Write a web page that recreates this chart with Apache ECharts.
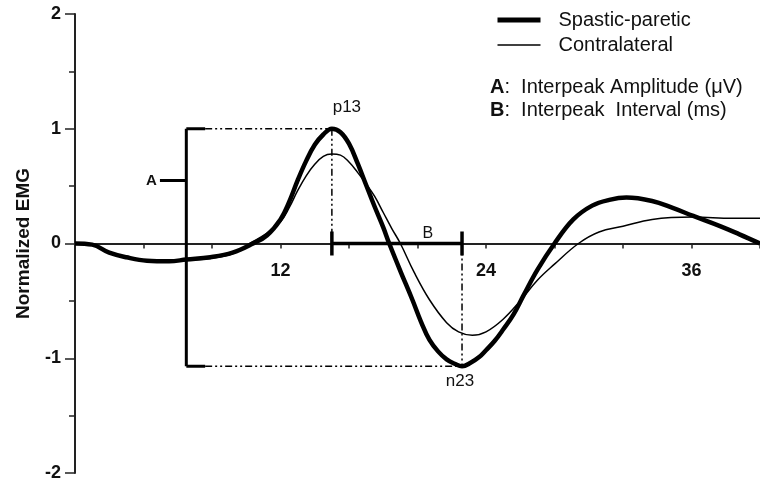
<!DOCTYPE html>
<html>
<head>
<meta charset="utf-8">
<title>Normalized EMG</title>
<script src="https://cdn.jsdelivr.net/npm/echarts@6/dist/echarts.min.js"></script>
<style>
  html, body { margin: 0; padding: 0; background: #fff; }
  #chart { width: 760px; height: 485px; }
</style>
</head>
<body>
<div id="chart"></div>
<script>
// Time after stimulus (ms) and normalized EMG for each limb
const spasticX = [0, 1, 2, 3, 4.2, 5.5, 6.5, 7.9, 9.2, 10.4, 11.2, 12, 12.5, 13, 13.5, 14, 14.5, 15, 15.5, 16, 16.5, 17, 17.5, 18, 18.35, 19, 19.7, 20.2, 20.7, 21.2, 21.7, 22.2, 22.6, 23.1, 23.6, 24, 24.5, 25, 25.6, 26.2, 27, 28, 29.1, 30.2, 31.2, 32.2, 33.7, 34.9, 36.1, 37.7, 38.8, 40];
const spasticY = [0, -0.01, -0.08, -0.12, -0.15, -0.155, -0.14, -0.12, -0.08, 0, 0.07, 0.21, 0.36, 0.55, 0.72, 0.86, 0.95, 1.0, 0.97, 0.87, 0.70, 0.51, 0.32, 0.14, 0, -0.24, -0.49, -0.68, -0.84, -0.94, -1.01, -1.05, -1.07, -1.04, -0.99, -0.93, -0.85, -0.75, -0.62, -0.45, -0.23, 0, 0.21, 0.33, 0.38, 0.40, 0.37, 0.31, 0.24, 0.15, 0.08, 0];

const contraX = [0, 1, 2, 3, 4.2, 5.5, 6.5, 7.9, 9.2, 10.2, 11.1, 12, 12.5, 13, 13.5, 14, 14.5, 15, 15.5, 16, 16.5, 17, 17.5, 18, 18.5, 19, 19.8, 20.7, 21.7, 22.4, 23.2, 24, 25, 26, 27, 28, 29.4, 30.6, 32, 33.7, 36.1, 38.4, 40];
const contraY = [0, -0.01, -0.08, -0.12, -0.15, -0.155, -0.145, -0.13, -0.09, 0, 0.08, 0.19, 0.31, 0.46, 0.59, 0.69, 0.76, 0.78, 0.77, 0.71, 0.62, 0.52, 0.41, 0.27, 0.13, 0, -0.25, -0.49, -0.69, -0.77, -0.80, -0.77, -0.66, -0.5, -0.32, -0.18, 0, 0.1, 0.15, 0.21, 0.23, 0.22, 0.22];

const seriesNames = ['Spastic-paretic', 'Contralateral'];
const xTickLabels = [12, 24, 36];
const yTickLabels = [-2, -1, 0, 1, 2];
const peakNames = ['p13', 'n23'];

// Bracket position for the amplitude marker (ms) and its label height
const bracketX = 6.5;
const bracketStubEnd = 7.6;
const aMarkY = 0.55;
const aMarkStart = 4.96;
const bLabelX = 20.6;
const bTickHalf = 0.105;

const FONT = '"Liberation Sans", Arial, Helvetica, sans-serif';
const INK = '#111';
const THICK = 4.5, THIN = 1.5;

const zip = (xs, ys) => xs.map((x, i) => [x, ys[i]]);

// Peak (p13) and trough (n23) of the spastic-paretic response
let pi = 0, ti = 0;
spasticY.forEach((v, i) => {
  if (v > spasticY[pi]) pi = i;
  if (v < spasticY[ti]) ti = i;
});
const peak = [spasticX[pi], spasticY[pi]];
const trough = [spasticX[ti], spasticY[ti]];

const dashDot = [7, 3, 2, 3, 2, 3];

function seg(points, width, type) {
  return {
    type: 'line', data: points, symbol: 'none', silent: true,
    lineStyle: { color: '#000', width: width, type: type || 'solid' },
    z: 3, animation: false
  };
}

function tag(value, text, extra) {
  return {
    value: value,
    label: Object.assign({ show: true, formatter: text, color: INK, fontFamily: FONT }, extra)
  };
}

const chartEl = document.getElementById('chart');
const chart = echarts.init(chartEl, null, { renderer: 'canvas' });

// Grid geometry; the time axis is drawn along the zero line
const gridTop = 14, gridBottom = 12, yMin = -2, yMax = 2;
const plotH = chartEl.clientHeight - gridTop - gridBottom;
const zeroOffset = -plotH * (0 - yMin) / (yMax - yMin);

chart.setOption({
  backgroundColor: '#fff',
  animation: false,
  textStyle: { fontFamily: FONT },
  grid: { left: 75, right: 0, top: gridTop, bottom: gridBottom, containLabel: false, outerBoundsMode: 'none' },
  legend: {
    data: [
      { name: seriesNames[0], lineStyle: { width: 5, color: '#000' } },
      { name: seriesNames[1], lineStyle: { width: THIN, color: '#000' } }
    ],
    orient: 'vertical',
    left: 490, top: 5,
    itemWidth: 43, itemHeight: 14, itemGap: 5,
    itemStyle: { opacity: 0 },
    textStyle: { fontSize: 20, color: INK, fontFamily: FONT, padding: [0, 0, 0, 13] }
  },
  xAxis: {
    type: 'value', min: 0, max: 40, interval: 4,
    position: 'bottom', offset: zeroOffset,
    axisLine: { onZero: false, lineStyle: { color: '#222', width: 2 } },
    axisTick: { show: true, length: 5, lineStyle: { color: '#222', width: 1.5 } },
    axisLabel: {
      margin: 19, fontSize: 18, fontWeight: 'bold', color: INK, fontFamily: FONT,
      formatter: v => (xTickLabels.indexOf(v) >= 0 ? String(v) : '')
    },
    splitLine: { show: false }
  },
  yAxis: {
    type: 'value', min: yMin, max: yMax, interval: 1,
    name: 'Normalized EMG', nameLocation: 'middle', nameGap: 42, nameRotate: 90,
    nameTextStyle: { fontSize: 19, fontWeight: 'bold', color: INK, fontFamily: FONT },
    axisLine: { show: true, onZero: false, lineStyle: { color: '#222', width: 2 } },
    axisTick: { show: true, length: 10, lineStyle: { color: '#222', width: 1.5 } },
    minorTick: { show: true, splitNumber: 2, length: 6, lineStyle: { color: '#222', width: 1.5 } },
    axisLabel: {
      margin: 14, fontSize: 18, fontWeight: 'bold', color: INK, fontFamily: FONT,
      formatter: v => (yTickLabels.indexOf(v) >= 0 ? String(v) : '')
    },
    splitLine: { show: false }
  },
  series: [
    {
      name: seriesNames[0], type: 'line', data: zip(spasticX, spasticY),
      smooth: 0.4, symbol: 'none', z: 5,
      lineStyle: { color: '#000', width: THICK }, itemStyle: { color: '#000' }
    },
    {
      name: seriesNames[1], type: 'line', data: zip(contraX, contraY),
      smooth: 0.4, symbol: 'none', z: 4,
      lineStyle: { color: '#000', width: THIN }, itemStyle: { color: '#000' }
    },
    // Amplitude bracket A
    seg([[bracketX, peak[1]], [bracketX, trough[1]]], 3),
    seg([[bracketX, peak[1]], [bracketStubEnd, peak[1]]], 3),
    seg([[bracketX, trough[1]], [bracketStubEnd, trough[1]]], 3),
    seg([[aMarkStart, aMarkY], [bracketX, aMarkY]], 3),
    seg([[bracketStubEnd, peak[1]], [peak[0], peak[1]]], 1.5, dashDot),
    seg([[bracketStubEnd, trough[1]], [trough[0], trough[1]]], 1.5, dashDot),
    // Drop lines from the peaks to the baseline
    seg([[peak[0], peak[1]], [peak[0], 0]], 1.5, dashDot),
    seg([[trough[0], 0], [trough[0], trough[1]]], 1.5, dashDot),
    // Interval bar B
    seg([[peak[0], 0], [trough[0], 0]], 3.5),
    seg([[peak[0], bTickHalf], [peak[0], -bTickHalf]], 3.5),
    seg([[trough[0], bTickHalf], [trough[0], -bTickHalf]], 3.5),
    // Text labels anchored to data points
    {
      type: 'scatter', symbolSize: 0, silent: true, z: 6,
      itemStyle: { opacity: 1, color: INK },
      data: [
        tag(peak, peakNames[0], { position: 'top', distance: 5, offset: [15, -8], fontSize: 17 }),
        tag(trough, peakNames[1], { position: 'bottom', distance: 5, offset: [-2, 2], fontSize: 17 }),
        tag([bLabelX, 0], 'B', { position: 'top', distance: 2, fontSize: 16 }),
        tag([aMarkStart, aMarkY], 'A', { position: 'left', distance: 3, fontSize: 15, fontWeight: 'bold' })
      ]
    }
  ],
  graphic: [
    {
      type: 'text', left: 490, top: 77,
      style: {
        text: '{b|A}:  Interpeak Amplitude (μV)',
        font: '20px ' + FONT, fill: INK,
        rich: { b: { fontWeight: 'bold', fontSize: 20, fontFamily: FONT } }
      }
    },
    {
      type: 'text', left: 490, top: 100,
      style: {
        text: '{b|B}:  Interpeak  Interval (ms)',
        font: '20px ' + FONT, fill: INK,
        rich: { b: { fontWeight: 'bold', fontSize: 20, fontFamily: FONT } }
      }
    }
  ]
});
</script>
</body>
</html>
